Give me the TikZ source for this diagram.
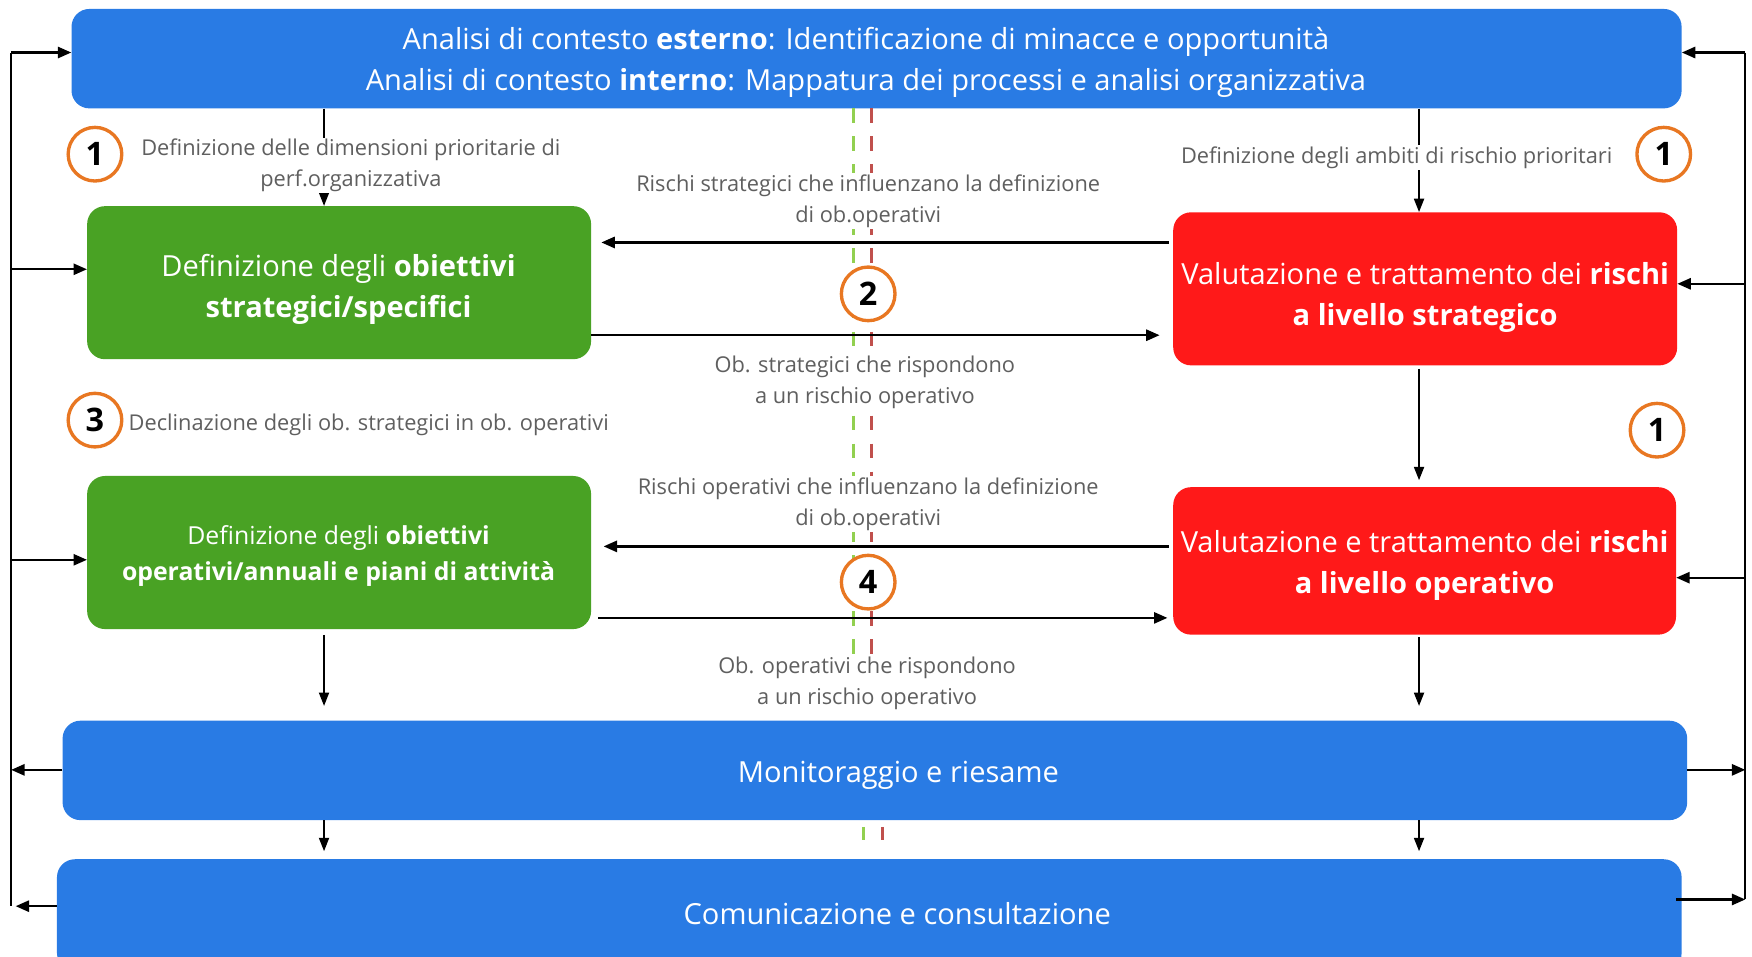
\documentclass[tikz,border=0pt]{standalone}
\usepackage{fontspec}
\setmainfont{Open Sans}
\usetikzlibrary{arrows.meta}
\definecolor{boxblue}{RGB}{41,123,228}
\definecolor{boxgreen}{RGB}{73,162,36}
\definecolor{boxred}{RGB}{255,25,25}
\definecolor{circorange}{RGB}{232,119,34}
\definecolor{labelgray}{RGB}{95,95,95}
\definecolor{dashgreen}{RGB}{146,208,80}
\definecolor{dashred}{RGB}{192,80,77}
\begin{document}
\begin{tikzpicture}[x=1pt,y=-1pt,
  box/.style={rounded corners=16pt, draw=none, inner sep=0pt},
  bigtxt/.style={font=\fontsize{26}{37}\selectfont},
  midtxt/.style={font=\fontsize{22.2}{32}\selectfont},
  boxtxt/.style={text=white, align=center, inner sep=0pt},
  lbl/.style={font=\fontsize{19.5}{28}\selectfont, text=labelgray, align=center, fill=white, inner sep=1pt},
  circ/.style={circle, draw=circorange, line width=3pt, fill=white, minimum size=48pt, inner sep=0pt, font=\fontsize{29}{29}\selectfont\bfseries},
  arr/.style={-{Triangle[length=12pt,width=10pt]}, line width=2pt},
  varr/.style={-{Triangle[length=12pt,width=9pt]}, line width=1.6pt},
  rail/.style={line width=2pt},
  gdash/.style={dashgreen, line width=3pt, dash pattern=on 13pt off 12pt},
  rdash/.style={dashred, line width=3pt, dash pattern=on 13pt off 12pt}
]
\useasboundingbox (0,0) rectangle (1568,856);

% boxes
\node[box, fill=boxblue, minimum width=1441pt, minimum height=89pt] (top) at (784.5,52.5) {};
\node[boxtxt, bigtxt] (toptxt) at (775,56) {Analisi di contesto \textbf{esterno}: Identificazione di minacce e opportunità\\Analisi di contesto \textbf{interno}: Mappatura dei processi e analisi organizzativa};
\node[box, fill=boxgreen, minimum width=451pt, minimum height=137pt] (g1) at (303.5,253) {};
\node[boxtxt, bigtxt] (g1txt) at (303,259) {Definizione degli \textbf{obiettivi}\\\textbf{strategici/specifici}};
\node[box, fill=boxred, minimum width=451pt, minimum height=137pt] (r1) at (1275.5,258.5) {};
\node[boxtxt, bigtxt] (r1txt) at (1275.5,266) {Valutazione e trattamento dei \textbf{rischi}\\\textbf{a livello strategico}};
\node[box, fill=boxgreen, minimum width=451pt, minimum height=137pt] (g2) at (303.5,494.5) {};
\node[boxtxt, midtxt] (g2txt) at (303,497.5) {Definizione degli \textbf{obiettivi}\\\textbf{operativi/annuali e piani di attività}};
\node[box, fill=boxred, minimum width=450pt, minimum height=132pt] (r2) at (1275,502) {};
\node[boxtxt, bigtxt] (r2txt) at (1275,506) {Valutazione e trattamento dei \textbf{rischi}\\\textbf{a livello operativo}};
\node[box, fill=boxblue, minimum width=1454pt, minimum height=89pt] (mon) at (783,689.5) {};
\node[boxtxt, bigtxt] (montxt) at (804,694) {Monitoraggio e riesame};
\node[box, fill=boxblue, minimum width=1454pt, minimum height=100pt] (com) at (778,819) {};
\node[boxtxt, bigtxt] (comtxt) at (803,818) {Comunicazione e consultazione};

% dashed guide lines
\coordinate (dgt) at (764,97);
\coordinate (dgb) at (764,585);
\coordinate (drt) at (780,97);
\coordinate (drb) at (780,585);
\draw[gdash] (dgt) -- (dgb);
\draw[rdash] (drt) -- (drb);
\coordinate (dg2t) at (773,740);
\coordinate (dg2b) at (773,752);
\coordinate (dr2t) at (790,740);
\coordinate (dr2b) at (790,752);
\draw[dashgreen, line width=3pt] (dg2t) -- (dg2b);
\draw[dashred, line width=3pt] (dr2t) -- (dr2b);

% rails
\coordinate (lt) at (10,47);
\coordinate (lg1) at (10,241);
\coordinate (lg2) at (10,501);
\coordinate (lmon) at (10,689);
\coordinate (lb) at (10,811);
\coordinate (rt) at (1562,47);
\coordinate (rr1) at (1562,254);
\coordinate (rr2) at (1562,517);
\coordinate (rmon) at (1562,689);
\coordinate (rb) at (1562,805);
\draw[rail] (lt) -- (lb);
\draw[rail] (rt) -- (rb);
\draw[arr] (lt) -- (top.west |- lt);
\draw[arr] (lg1) -- (g1.west |- lg1);
\draw[arr] (lg2) -- (g2.west |- lg2);
\draw[arr] (mon.west |- lmon) -- (lmon);
\draw[arr] (com.west |- lb) -- ([xshift=4pt]lb);
\draw[arr] (rt) -- (top.east |- rt);
\draw[arr] (rr1) -- (r1.east |- rr1);
\draw[arr] (rr2) -- (r2.east |- rr2);
\draw[arr] (mon.east |- rmon) -- (rmon);
\draw[arr] ([xshift=-5pt]com.east |- rb) -- (rb);

% vertical arrows
\coordinate (xl) at (290,0);
\coordinate (xr) at (1270,0);
\draw[varr] (top.south -| xl) -- (g1.north -| xl);
\draw[varr] (top.south -| xr) -- (r1.north -| xr);
\draw[varr, shorten <=3pt, shorten >=6pt] (r1.south -| xr) -- (r2.north -| xr);
\draw[varr, shorten <=5pt, shorten >=13pt] (g2.south -| xl) -- (mon.north -| xl);
\draw[varr, shorten <=2pt, shorten >=13pt] (r2.south -| xr) -- (mon.north -| xr);
\draw[varr, shorten >=7pt] (mon.south -| xl) -- (com.north -| xl);
\draw[varr, shorten >=7pt] (mon.south -| xr) -- (com.north -| xr);

% horizontal arrows
\coordinate (ya) at (0,217);
\coordinate (yb) at (0,300);
\coordinate (yc) at (0,489);
\coordinate (yd) at (0,553);
\draw[arr, shorten <=4pt, shorten >=9pt] (r1.west |- ya) -- (g1.east |- ya);
\draw[arr, shorten >=12pt] (g1.east |- yb) -- (r1.west |- yb);
\draw[arr, shorten <=4pt, shorten >=11pt] (r2.west |- yc) -- (g2.east |- yc);
\draw[arr, shorten <=6pt, shorten >=5pt] (g2.east |- yd) -- (r2.west |- yd);

% labels
\node[lbl] (l1) at (314,148) {Definizione delle dimensioni prioritarie di\\perf.organizzativa};
\node[lbl] (l2) at (1250,141) {Definizione degli ambiti di rischio prioritari};
\node[lbl] (l3) at (777,180) {Rischi strategici che influenzano la definizione\\di ob.operativi};
\node[lbl] (l4) at (774,342) {Ob. strategici che rispondono\\a un rischio operativo};
\node[lbl, anchor=west] (l5) at (114,380) {Declinazione degli ob. strategici in ob. operativi};
\node[lbl] (l6) at (777,451) {Rischi operativi che influenzano la definizione\\di ob.operativi};
\node[lbl] (l7) at (776,611.5) {Ob. operativi che rispondono\\a un rischio operativo};

% circles
\node[circ] (c1a) at (85,138) {1};
\node[circ] (c1b) at (1489,138) {1};
\node[circ] (c1c) at (1483,385) {1};
\node[circ] (c2) at (777,263) {2};
\node[circ] (c3) at (85,376) {3};
\node[circ] (c4) at (777,521) {4};
\end{tikzpicture}
\end{document}
